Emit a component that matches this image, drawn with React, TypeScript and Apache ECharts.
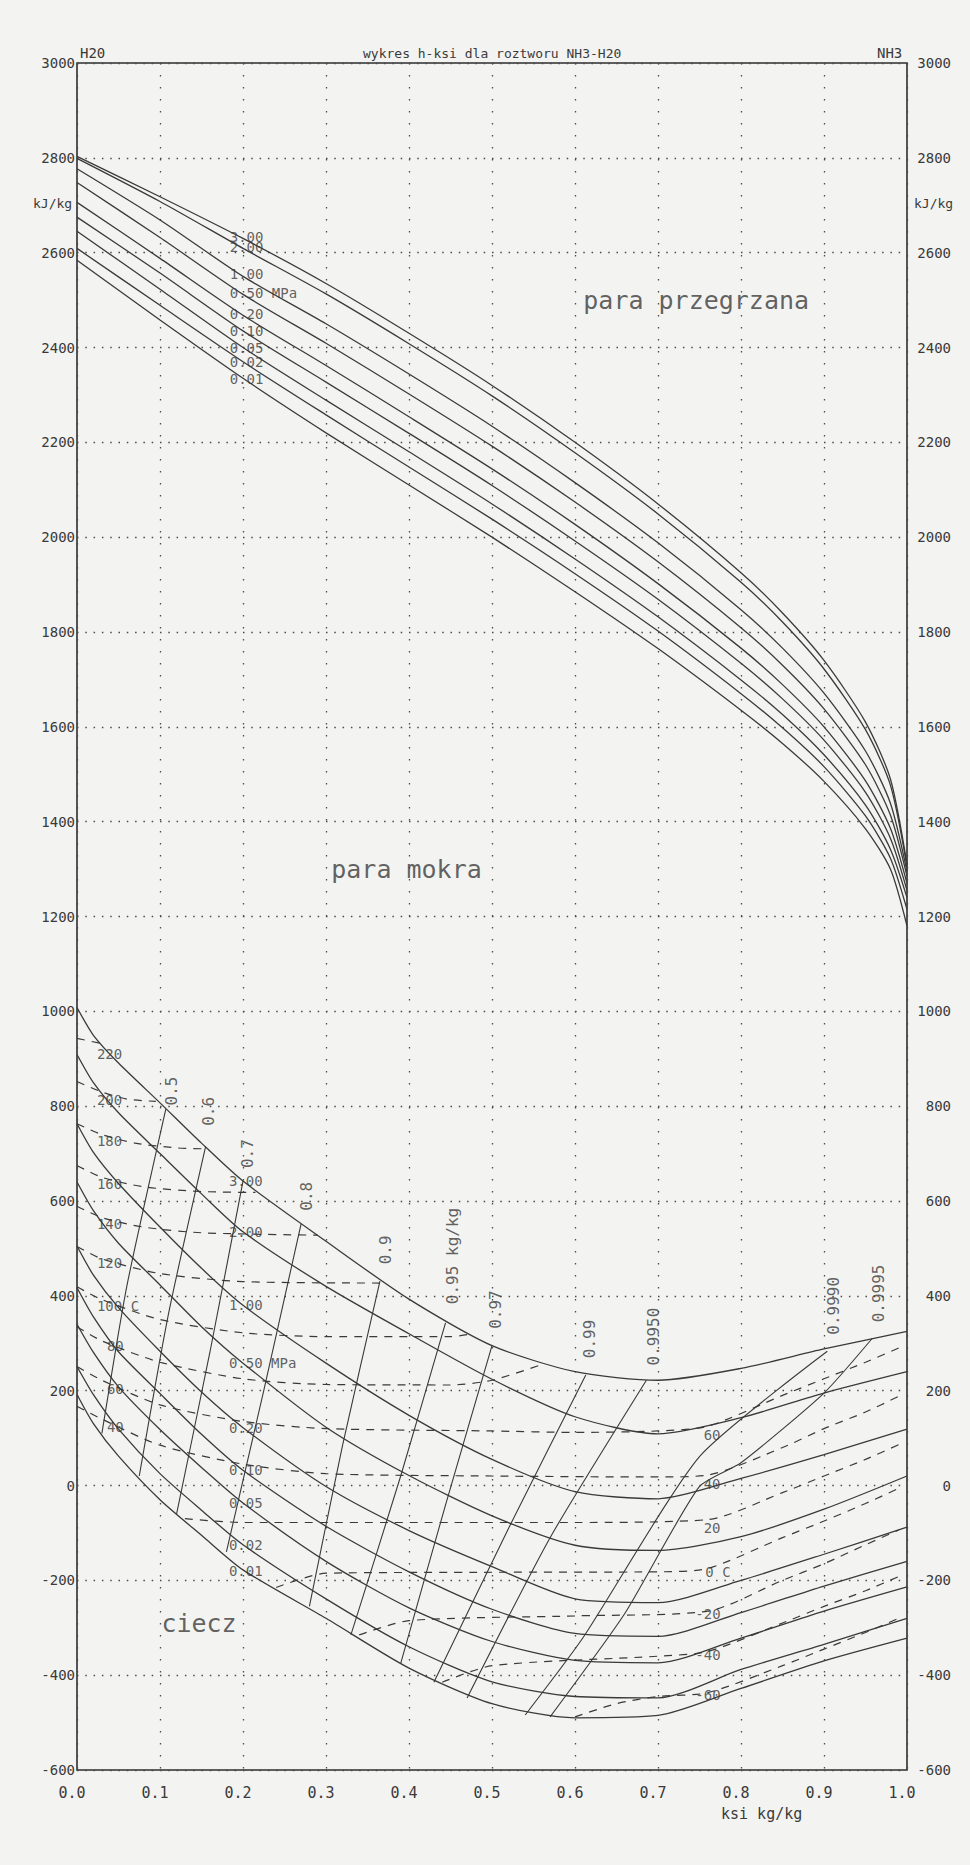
import React, { useEffect, useRef } from 'react';
import * as echarts from 'echarts';

// ---------- data ----------
const KSI_DEW = [0, 0.1, 0.2, 0.3, 0.4, 0.5, 0.6, 0.7, 0.8, 0.85, 0.9, 0.95, 0.98, 1.0];
const dew300 = [2803, 2718, 2630, 2535, 2430, 2320, 2200, 2070, 1925, 1840, 1740, 1610, 1490, 1310];
const dew200 = [2799, 2708, 2609, 2513, 2408, 2298, 2178, 2049, 1905, 1821, 1722, 1594, 1477, 1305];
const dew100 = [2777, 2669, 2550, 2450, 2344, 2234, 2115, 1988, 1847, 1766, 1671, 1549, 1439, 1295];
const dew050 = [2748, 2632, 2512, 2409, 2302, 2192, 2074, 1948, 1809, 1730, 1638, 1520, 1414, 1285];
const dew020 = [2706, 2588, 2468, 2362, 2254, 2144, 2027, 1902, 1766, 1689, 1600, 1486, 1386, 1270];
const dew010 = [2675, 2557, 2435, 2327, 2219, 2109, 1992, 1869, 1734, 1659, 1572, 1462, 1365, 1255];
const dew005 = [2645, 2523, 2400, 2289, 2180, 2070, 1954, 1832, 1699, 1626, 1541, 1435, 1342, 1240];
const dew002 = [2609, 2489, 2370, 2258, 2148, 2038, 1923, 1802, 1670, 1598, 1516, 1412, 1323, 1215];
const dew001 = [2584, 2458, 2335, 2220, 2110, 2000, 1885, 1765, 1635, 1565, 1485, 1385, 1300, 1180];

const KSI_LIQ = [0, 0.02, 0.05, 0.1, 0.15, 0.2, 0.3, 0.4, 0.5, 0.6, 0.7, 0.8, 0.9, 1.0];
const liq300 = [1008, 949, 891, 807, 722, 642, 515, 393, 295, 240, 222, 247, 288, 325];
const liq200 = [909, 849, 786, 700, 615, 535, 420, 320, 224, 145, 109, 143, 195, 240];
const liq100 = [763, 702, 637, 545, 458, 380, 258, 148, 55, -13, -28, 15, 65, 119];
const liq050 = [640, 579, 511, 423, 335, 258, 123, 21, -64, -126, -137, -108, -50, 20];
const liq020 = [505, 443, 375, 283, 197, 122, -2, -95, -171, -239, -247, -200, -145, -88];
const liq010 = [417, 355, 282, 194, 108, 32, -86, -182, -261, -312, -318, -268, -212, -160];
const liq005 = [340, 280, 208, 118, 38, -37, -160, -258, -329, -369, -374, -322, -265, -214];
const liq002 = [251, 191, 119, 25, -52, -125, -239, -340, -414, -445, -448, -388, -335, -280];
const liq001 = [192, 130, 62, -30, -105, -178, -280, -385, -460, -490, -485, -428, -370, -322];

// isotherms (dashed), [ksi, h]
const iso220 = [[0, 943], [0.035, 930]];
const iso200 = [[0, 852], [0.03, 830], [0.06, 815], [0.095, 810]];
const iso180 = [[0, 763], [0.03, 740], [0.07, 722], [0.12, 712], [0.155, 710]];
const iso160 = [[0, 675], [0.03, 650], [0.08, 630], [0.15, 620], [0.215, 618]];
const iso140 = [[0, 589], [0.03, 565], [0.08, 545], [0.15, 533], [0.29, 528]];
const iso120 = [[0, 504], [0.03, 478], [0.1, 447], [0.2, 430], [0.365, 427]];
const iso100 = [[0, 419], [0.03, 392], [0.1, 350], [0.2, 322], [0.3, 314], [0.45, 314], [0.47, 318]];
const iso80 = [[0, 335], [0.03, 305], [0.1, 260], [0.2, 225], [0.3, 213], [0.45, 212], [0.5, 222], [0.56, 255]];
const iso60 = [[0, 251], [0.03, 222], [0.1, 170], [0.2, 135], [0.3, 120], [0.5, 115], [0.6, 112], [0.7, 115], [0.76, 125], [0.85, 190], [0.9, 225], [0.95, 260], [0.99, 290]];
const iso40 = [[0, 167], [0.03, 140], [0.1, 85], [0.2, 45], [0.3, 25], [0.5, 20], [0.7, 18], [0.76, 22], [0.85, 80], [0.9, 120], [0.95, 155], [0.99, 188]];
const iso20 = [[0.13, -70], [0.2, -78], [0.4, -78], [0.6, -78], [0.76, -72], [0.85, -15], [0.9, 20], [0.95, 55], [0.99, 86]];
const iso0 = [[0.24, -215], [0.3, -185], [0.5, -183], [0.7, -182], [0.76, -175], [0.85, -110], [0.9, -75], [0.95, -38], [0.99, -6]];
const isoM20 = [[0.34, -315], [0.4, -285], [0.6, -275], [0.76, -265], [0.85, -200], [0.9, -165], [0.95, -125], [0.99, -94]];
const isoM40 = [[0.44, -415], [0.5, -380], [0.7, -360], [0.76, -350], [0.85, -290], [0.9, -255], [0.95, -222], [0.99, -192]];
const isoM60 = [[0.6, -488], [0.65, -460], [0.7, -445], [0.76, -437], [0.85, -380], [0.9, -345], [0.95, -310], [0.99, -280]];

// auxiliary vapour-concentration lines, [ksi, h]
const aux050 = [[0.03, 110], [0.06, 420], [0.107, 794]];
const aux060 = [[0.075, 20], [0.11, 360], [0.155, 715]];
const aux070 = [[0.12, -60], [0.16, 280], [0.2, 642]];
const aux080 = [[0.18, -140], [0.225, 200], [0.27, 552]];
const aux090 = [[0.28, -255], [0.32, 85], [0.365, 431]];
const aux095 = [[0.33, -315], [0.39, 20], [0.444, 343]];
const aux097 = [[0.39, -375], [0.445, -35], [0.5, 295]];
const aux099 = [[0.43, -415], [0.52, -90], [0.613, 233]];
const aux09950 = [[0.47, -448], [0.57, -110], [0.686, 222]];
const aux09990 = [[0.54, -484], [0.61, -320], [0.75, 61], [0.904, 283]];
const aux09995 = [[0.57, -488], [0.66, -270], [0.75, -2], [0.8, 48], [0.9, 195], [0.958, 310]];

// labels: text, ksi, h
const dewLabels = [
  ['3.00', 0.184, 2634], ['2.00', 0.184, 2613], ['1.00', 0.184, 2554], ['0.50 MPa', 0.184, 2515],
  ['0.20', 0.184, 2470], ['0.10', 0.184, 2435], ['0.05', 0.184, 2400], ['0.02', 0.184, 2369], ['0.01', 0.184, 2334],
];
const liqLabels = [
  ['3.00', 0.183, 642], ['2.00', 0.183, 535], ['1.00', 0.183, 380], ['0.50 MPa', 0.183, 258],
  ['0.20', 0.183, 122], ['0.10', 0.183, 32], ['0.05', 0.183, -37], ['0.02', 0.183, -125], ['0.01', 0.183, -180],
];
const isoLabelsLeft = [
  ['220', 0.024, 911], ['200', 0.024, 814], ['180', 0.024, 727], ['160', 0.024, 636], ['140', 0.024, 552],
  ['120', 0.024, 469], ['100 C', 0.024, 379], ['80', 0.036, 295], ['60', 0.036, 204], ['40', 0.036, 123],
];
const isoLabelsRight = [
  ['60', 0.755, 106], ['40', 0.755, 4], ['20', 0.755, -90], ['0 C', 0.757, -182],
  ['-20', 0.745, -270], ['-40', 0.745, -357], ['-60', 0.745, -442],
];
const auxLabels = [
  ['0.5', 0.114, 832], ['0.6', 0.159, 789], ['0.7', 0.206, 700], ['0.8', 0.277, 610], ['0.9', 0.372, 497],
  ['0.95 kg/kg', 0.452, 484], ['0.97', 0.504, 371], ['0.99', 0.618, 309], ['0.9950', 0.694, 314],
  ['0.9990', 0.911, 379], ['0.9995', 0.966, 405],
];
const regionLabels = [['para przegrzana', 0.746, 2500], ['para mokra', 0.397, 1300], ['ciecz', 0.147, -290]];

const INK = '#3a3a3a';
const MONO = "'DejaVu Sans Mono', monospace";

function zip(xs: number[], ys: number[]) {
  return xs.map((x, i) => [x, ys[i]]);
}

function solid(data: number[][], w = 1.3) {
  return {
    type: 'line', data, showSymbol: false, symbol: 'none', silent: true, smooth: 0.25,
    lineStyle: { color: INK, width: w }, z: 3,
  };
}
function dashed(data: number[][]) {
  return {
    type: 'line', data, showSymbol: false, symbol: 'none', silent: true, smooth: 0.25,
    lineStyle: { color: INK, width: 1.2, type: [8, 7] }, z: 3,
  };
}
function labelSeries(items: any[], opts: any) {
  return {
    type: 'scatter', symbolSize: 0, silent: true, z: 5,
    data: items.map((it) => ({
      value: [it[1], it[2]],
      label: { show: true, formatter: it[0], ...opts },
    })),
  };
}

export default function App() {
  const ref = useRef<HTMLDivElement>(null);
  useEffect(() => {
    if (!ref.current) return;
    const chart = echarts.init(ref.current, undefined, { renderer: 'svg' });
    const small = { color: INK, fontFamily: MONO, fontSize: 14 };
    const series: any[] = [
      ...[dew300, dew200, dew100, dew050, dew020, dew010, dew005, dew002, dew001].map((d) => solid(zip(KSI_DEW, d))),
      ...[liq300, liq200, liq100, liq050, liq020, liq010, liq005, liq002, liq001].map((d) => solid(zip(KSI_LIQ, d))),
      ...[iso220, iso200, iso180, iso160, iso140, iso120, iso100, iso80, iso60, iso40, iso20, iso0, isoM20, isoM40, isoM60].map(dashed),
      ...[aux050, aux060, aux070, aux080, aux090, aux095, aux097, aux099, aux09950, aux09990, aux09995].map((d) => ({ ...solid(d, 1.1), smooth: 0.2 })),
      labelSeries(dewLabels, { position: 'right', distance: 0, ...small }),
      labelSeries(liqLabels, { position: 'right', distance: 0, ...small }),
      labelSeries(isoLabelsLeft, { position: 'right', distance: 0, ...small }),
      labelSeries(isoLabelsRight, { position: 'right', distance: 0, ...small }),
      labelSeries(auxLabels, { position: 'inside', rotate: 90, ...small, fontSize: 16 }),
      labelSeries(regionLabels, { position: 'inside', color: INK, fontFamily: MONO, fontSize: 25 }),
    ];
    const yLabel = { color: INK, fontFamily: MONO, fontSize: 14, formatter: (v: number) => String(v) };
    chart.setOption({
      animation: false,
      backgroundColor: '#f3f3f1',
      grid: { left: 77, right: 63, top: 63, bottom: 95, show: true, borderColor: '#2e2e2e', borderWidth: 1.6, backgroundColor: 'transparent' },
      xAxis: {
        type: 'value', min: 0, max: 1, interval: 0.1,
        axisLine: { show: false }, axisTick: { show: false },
        axisLabel: { color: INK, fontFamily: MONO, fontSize: 15, margin: 15, padding: [0, 10, 0, 0], formatter: (v: number) => v.toFixed(1) },
        splitLine: { show: true, lineStyle: { color: '#4a4a4a', width: 1.3, type: [1.5, 10.5] } },
      },
      yAxis: [
        {
          type: 'value', min: -600, max: 3000, interval: 200, position: 'left',
          axisLine: { show: false }, axisTick: { show: false },
          axisLabel: { ...yLabel, margin: 2 },
          splitLine: { show: true, lineStyle: { color: '#4a4a4a', width: 1.3, type: [1.5, 6.8] } },
        },
        {
          type: 'value', min: -600, max: 3000, interval: 200, position: 'right',
          axisLine: { show: false }, axisTick: { show: false },
          axisLabel: { ...yLabel, margin: 44, align: 'right' },
          splitLine: { show: false },
        },
      ],
      series,
      graphic: [
        { type: 'text', left: 80, top: 46, style: { text: 'H20', fill: INK, font: `14px ${MONO}` } },
        { type: 'text', left: 877, top: 46, style: { text: 'NH3', fill: INK, font: `14px ${MONO}` } },
        { type: 'text', left: 363, top: 47, style: { text: 'wykres h-ksi dla roztworu NH3-H20', fill: INK, font: `13px ${MONO}` } },
        { type: 'text', left: 33, top: 197, style: { text: 'kJ/kg', fill: INK, font: `13px ${MONO}` } },
        { type: 'text', left: 914, top: 197, style: { text: 'kJ/kg', fill: INK, font: `13px ${MONO}` } },
        { type: 'text', left: 721, top: 1806, style: { text: 'ksi kg/kg', fill: INK, font: `15px ${MONO}` } },
      ],
    });
    return () => chart.dispose();
  }, []);
  return <div ref={ref} style={{ position: 'absolute', left: 0, top: 0, width: 970, height: 1865 }} />;
}
